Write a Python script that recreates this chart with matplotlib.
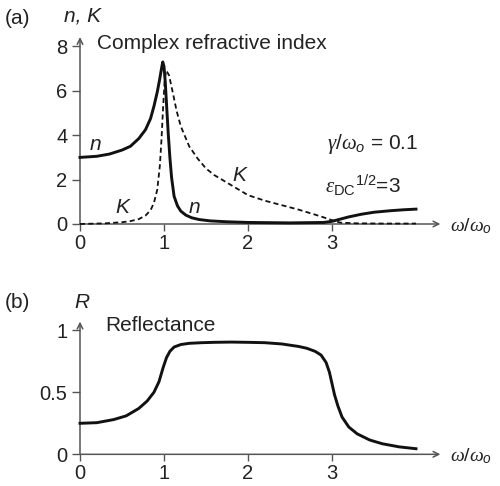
import matplotlib
matplotlib.use("Agg")
import matplotlib.pyplot as plt

plt.rcParams['font.family'] = ['Liberation Sans', 'DejaVu Sans']
plt.rcParams['mathtext.fontset'] = 'custom'
plt.rcParams['mathtext.rm'] = 'Liberation Sans'
plt.rcParams['mathtext.it'] = 'Liberation Serif:italic'
plt.rcParams['mathtext.bf'] = 'Liberation Sans:italic'

# refractive index n (solid)
n_w = [0, 0.2, 0.35, 0.5, 0.6, 0.7, 0.78, 0.84, 0.88, 0.92, 0.95, 0.97, 0.985,
       1.0, 1.015, 1.03, 1.05, 1.07, 1.09, 1.12, 1.16, 1.2, 1.26, 1.33, 1.42,
       1.55, 1.75, 2.0, 2.5, 2.9, 3.0, 3.1, 3.2, 3.35, 3.5, 3.7, 3.85, 4.0]
n_v = [3.0, 3.05, 3.15, 3.33, 3.5, 3.85, 4.25, 4.75, 5.3, 5.95, 6.55, 7.0, 7.3,
       7.1, 6.4, 5.4, 4.1, 3.0, 2.1, 1.25, 0.82, 0.58, 0.4, 0.28, 0.2,
       0.14, 0.1, 0.07, 0.05, 0.07, 0.12, 0.22, 0.32, 0.44, 0.53, 0.6, 0.64, 0.67]

# extinction coefficient K (dashed)
k_w = [0, 0.3, 0.5, 0.6, 0.7, 0.78, 0.84, 0.88, 0.92, 0.95, 0.97, 0.99, 1.01,
       1.03, 1.06, 1.1, 1.15, 1.2, 1.3, 1.4, 1.5, 1.6, 1.8, 2.0, 2.2, 2.4,
       2.6, 2.8, 2.9, 3.0, 3.1, 3.3, 3.6, 4.0]
k_v = [0, 0.03, 0.08, 0.13, 0.22, 0.38, 0.62, 0.95, 1.55, 2.6, 3.8, 5.3, 6.6,
       6.9, 6.7, 6.0, 5.1, 4.4, 3.5, 2.95, 2.5, 2.2, 1.75, 1.3, 1.05, 0.85,
       0.65, 0.42, 0.3, 0.17, 0.06, 0.03, 0.02, 0.02]

# reflectance R
r_w = [0, 0.2, 0.4, 0.55, 0.7, 0.8, 0.88, 0.94, 0.99, 1.03, 1.07, 1.12, 1.2,
       1.3, 1.45, 1.6, 1.8, 2.0, 2.2, 2.4, 2.6, 2.7, 2.8, 2.87, 2.93, 2.97,
       3.0, 3.03, 3.07, 3.12, 3.2, 3.3, 3.45, 3.6, 3.8, 4.0]
r_v = [0.25, 0.255, 0.28, 0.31, 0.37, 0.43, 0.5, 0.585, 0.7, 0.78, 0.83, 0.865,
       0.885, 0.895, 0.9, 0.903, 0.905, 0.903, 0.9, 0.89, 0.87, 0.855, 0.83,
       0.8, 0.74, 0.66, 0.57, 0.48, 0.39, 0.3, 0.22, 0.165, 0.115, 0.085, 0.06, 0.045]

xticks = [0, 1, 2, 3]
top_yticks = [0, 2, 4, 6, 8]
bot_yticks = [0, 0.5, 1]
bot_ylabels = ['0', '0.5', '1']

axcol = '#555555'
fig = plt.figure(figsize=(5, 4.86), dpi=100)
ax1 = fig.add_axes([0.16, 0.5391, 0.7392, 0.3928])
ax2 = fig.add_axes([0.16, 0.0652, 0.7392, 0.2807])


def setup(ax, ymax, ytop):
    for s in ax.spines.values():
        s.set_visible(False)
    ax.set_xlim(0, 4.4)
    ax.set_ylim(0, ymax)
    ax.set_xticks(xticks)
    ax.tick_params(direction='out', color=axcol, width=1, labelsize=14.5,
                   labelcolor='#222222')
    ax.tick_params(axis='x', length=5, pad=2)
    ax.tick_params(axis='y', length=6, pad=3)
    arrow = dict(arrowstyle='->', color=axcol, lw=1.1, shrinkA=0, shrinkB=0)
    ax.annotate('', xy=(4.29, 0), xytext=(0, 0), arrowprops=arrow,
                annotation_clip=False, zorder=1)
    ax.annotate('', xy=(0, ytop), xytext=(0, 0), arrowprops=arrow,
                annotation_clip=False, zorder=1)
    ax.text(4.4, -0.01 * ymax, r'$\omega/\omega_{\mathbf{o}}$', fontsize=14,
            va='center', ha='left', color='#222222', clip_on=False)


setup(ax1, 8.6, 8.42)
ax1.set_yticks(top_yticks)
ax1.plot(k_w, k_v, color='#111111', lw=1.3, dashes=(2.8, 1.8), clip_on=False, zorder=3)
ax1.plot(n_w, n_v, color='#111111', lw=2.1, clip_on=False, zorder=4)

tk = dict(fontsize=15, color='#222222')
ax1.text(0.2, 8.15, 'Complex refractive index', va='center', ha='left', **tk)
ax1.text(0.18, 3.6, 'n', style='italic', va='center', ha='center', **tk)
ax1.text(0.5, 0.75, 'K', style='italic', va='center', ha='center', **tk)
ax1.text(1.36, 0.75, 'n', style='italic', va='center', ha='center', **tk)
ax1.text(1.9, 2.2, 'K', style='italic', va='center', ha='center', **tk)
ax1.text(2.94, 3.6, r'$\gamma/\omega_{\mathbf{o}}$ = 0.1', va='center', ha='left', **tk)
ax1.text(2.92, 1.75, r'$\varepsilon_{\mathrm{DC}}{}^{1/2}$=3', va='center', ha='left', **tk)

setup(ax2, 1.1, 1.07)
ax2.set_yticks(bot_yticks)
ax2.set_yticklabels(bot_ylabels)
ax2.plot(r_w, r_v, color='#111111', lw=2.1, clip_on=False, zorder=4)
ax2.text(0.3, 1.04, 'Reflectance', va='center', ha='left', **tk)

fig.text(17 / 500, 1 - 19 / 486, '(a)', ha='center', va='center', **tk)
fig.text(82 / 500, 1 - 16 / 486, 'n, K', style='italic', ha='center', va='center', **tk)
fig.text(17 / 500, 1 - 302 / 486, '(b)', ha='center', va='center', **tk)
fig.text(82 / 500, 1 - 302 / 486, 'R', style='italic', ha='center', va='center', **tk)

fig.savefig('out.png', dpi=100)
